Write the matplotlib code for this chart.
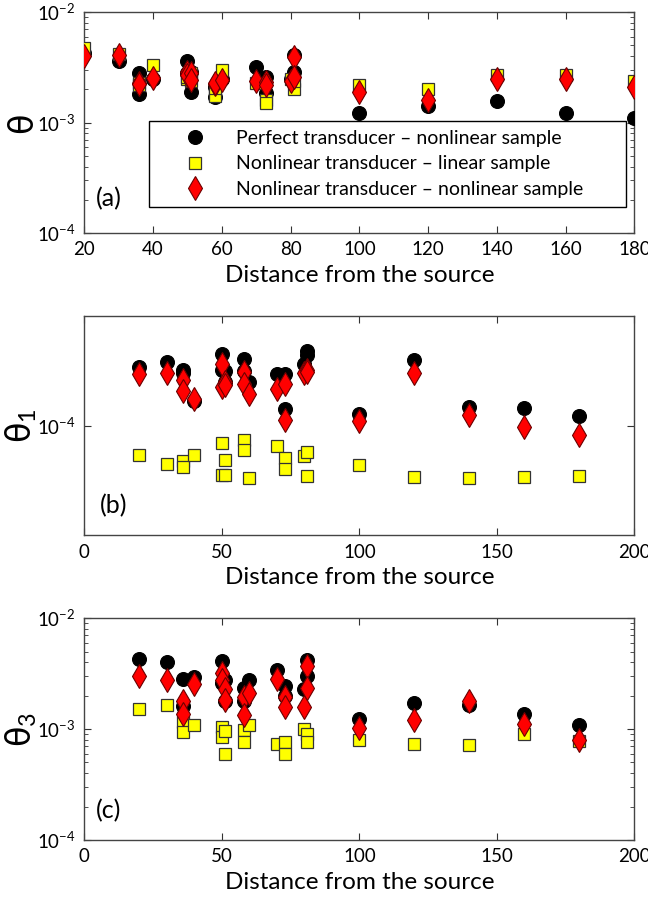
import matplotlib
matplotlib.use('Agg')
import matplotlib.pyplot as plt
from matplotlib.ticker import LogLocator, NullLocator, NullFormatter

plt.rcParams['font.family'] = ['Lato', 'DejaVu Sans']
plt.rcParams['mathtext.fontset'] = 'custom'
plt.rcParams['mathtext.rm'] = 'Lato'
plt.rcParams['mathtext.it'] = 'Lato'

# distance of each measurement point from the source
dist = [20, 30, 36, 36, 40, 50, 50, 51, 51, 58, 58, 60, 70, 73, 73, 80, 81, 81,
        100, 120, 140, 160, 180]

# (a) theta
theta_perfect = [4.3e-3, 3.6e-3, 2.8e-3, 1.8e-3, 2.5e-3, 3.6e-3, 2.8e-3, 2.9e-3,
                 1.9e-3, 1.7e-3, 2.1e-3, 2.5e-3, 3.2e-3, 2.6e-3, 1.85e-3, 2.5e-3,
                 4.05e-3, 2.9e-3, 1.22e-3, 1.4e-3, 1.58e-3, 1.22e-3, 1.1e-3]
theta_nl_lin = [4.7e-3, 4.2e-3, 2.3e-3, 2.2e-3, 3.3e-3, 2.5e-3, 2.6e-3, 2.8e-3,
                2.4e-3, 1.75e-3, 2.05e-3, 3.0e-3, 2.3e-3, 1.6e-3, 1.5e-3, 2.5e-3,
                2.0e-3, 2.4e-3, 2.2e-3, 2.0e-3, 2.7e-3, 2.7e-3, 2.4e-3]
theta_nl_nl = [4.0e-3, 4.1e-3, 2.3e-3, 2.25e-3, 2.55e-3, 2.9e-3, 2.7e-3, 2.8e-3,
               2.45e-3, 2.25e-3, 2.3e-3, 2.45e-3, 2.4e-3, 2.35e-3, 2.2e-3, 2.4e-3,
               3.9e-3, 2.6e-3, 1.9e-3, 1.6e-3, 2.5e-3, 2.5e-3, 2.12e-3]

# (b) theta_1
theta1_perfect = [1.86e-4, 1.95e-4, 1.80e-4, 1.74e-4, 1.3e-4, 2.13e-4, 1.79e-4, 1.78e-4,
                  1.59e-4, 2.02e-4, 1.78e-4, 1.58e-4, 1.72e-4, 1.72e-4, 1.19e-4, 1.91e-4,
                  2.18e-4, 2.1e-4, 1.13e-4, 2.0e-4, 1.22e-4, 1.2e-4, 1.11e-4]
theta1_nl_lin = [7.35e-5, 6.66e-5, 6.9e-5, 6.5e-5, 7.35e-5, 8.34e-5, 5.94e-5, 6.95e-5,
                 5.97e-5, 8.58e-5, 7.73e-5, 5.78e-5, 8.06e-5, 7.15e-5, 6.37e-5, 7.3e-5,
                 7.6e-5, 5.88e-5, 6.58e-5, 5.84e-5, 5.74e-5, 5.84e-5, 5.9e-5]
theta1_nl_nl = [1.72e-4, 1.74e-4, 1.62e-4, 1.44e-4, 1.32e-4, 1.91e-4, 1.50e-4, 1.58e-4,
                1.54e-4, 1.75e-4, 1.55e-4, 1.40e-4, 1.47e-4, 1.55e-4, 1.06e-4, 1.73e-4,
                1.79e-4, 1.76e-4, 1.05e-4, 1.74e-4, 1.12e-4, 9.86e-5, 9.1e-5]

# (c) theta_3
theta3_perfect = [4.31e-3, 4.0e-3, 2.82e-3, 1.62e-3, 2.94e-3, 4.14e-3, 2.6e-3, 2.79e-3,
                  1.80e-3, 2.34e-3, 1.78e-3, 2.75e-3, 3.43e-3, 2.43e-3, 1.97e-3, 2.29e-3,
                  4.23e-3, 2.99e-3, 1.23e-3, 1.72e-3, 1.66e-3, 1.37e-3, 1.09e-3]
theta3_nl_lin = [1.52e-3, 1.64e-3, 1.17e-3, 9.5e-4, 1.09e-3, 1.04e-3, 8.4e-4, 9.65e-4,
                 5.94e-4, 9.86e-4, 7.58e-4, 1.09e-3, 7.38e-4, 7.58e-4, 6.0e-4, 1.0e-3,
                 9.1e-4, 7.6e-4, 8.0e-4, 7.38e-4, 7.17e-4, 9.1e-4, 7.74e-4]
theta3_nl_nl = [3.03e-3, 2.75e-3, 1.80e-3, 1.37e-3, 2.56e-3, 3.2e-3, 2.79e-3, 2.29e-3,
                1.84e-3, 1.94e-3, 1.33e-3, 2.11e-3, 2.82e-3, 1.93e-3, 1.58e-3, 1.58e-3,
                3.72e-3, 2.34e-3, 1.02e-3, 1.2e-3, 1.81e-3, 1.12e-3, 8.0e-4]

labels = ['Perfect transducer \u2013 nonlinear sample',
          'Nonlinear transducer \u2013 linear sample',
          'Nonlinear transducer \u2013 nonlinear sample']

fig = plt.figure(figsize=(6.48, 8.98), dpi=100)
ax_a = fig.add_axes([0.130, 0.7405, 0.849, 0.246])
ax_b = fig.add_axes([0.130, 0.404, 0.849, 0.244])
ax_c = fig.add_axes([0.130, 0.0646, 0.849, 0.247])

def draw(ax, perfect, nl_lin, nl_nl, ylab):
    ax.plot(dist, perfect, 'o', ms=10, mfc='black', mec='black', mew=0.8,
            label=labels[0], zorder=3)
    ax.plot(dist, nl_lin, 's', ms=8.5, mfc='#ffff00', mec='#333333', mew=0.9,
            label=labels[1], zorder=4)
    ax.plot(dist, nl_nl, 'd', ms=12, mfc='#ff0000', mec='#6b0000', mew=0.8,
            label=labels[2], zorder=5)
    ax.set_yscale('log')
    ax.set_xlabel('Distance from the source', fontsize=17.5, labelpad=5)
    ax.set_ylabel(ylab, fontsize=24, family='DejaVu Sans')
    ax.yaxis.set_label_coords(-0.082, 0.5)
    ax.tick_params(which='both', direction='in', top=True, right=True,
                   labelsize=13.5, colors='#333333', labelcolor='black')
    ax.tick_params(which='major', length=5, pad=6)
    ax.tick_params(which='minor', length=3)
    for sp in ax.spines.values():
        sp.set_color('#444444')
        sp.set_linewidth(1.0)

# (a)
draw(ax_a, theta_perfect, theta_nl_lin, theta_nl_nl, '\u03b8')
ax_a.set_xlim(20, 180)
ax_a.set_xticks(range(20, 181, 20))
ax_a.set_ylim(1e-4, 1e-2)
ax_a.yaxis.set_minor_locator(LogLocator(base=10, subs=range(2, 10)))
ax_a.yaxis.set_minor_formatter(NullFormatter())
ax_a.text(0.022, 0.12, '(a)', transform=ax_a.transAxes, fontsize=18)
leg = ax_a.legend(loc='lower left', bbox_to_anchor=(0.118, 0.118, 0.866, 0.375),
                  mode='expand', fontsize=14, frameon=True, fancybox=False,
                  edgecolor='black', borderpad=0.45, labelspacing=0.45,
                  handletextpad=0.2, borderaxespad=0, handlelength=3.8)
leg.get_frame().set_linewidth(1.0)
leg.get_frame().set_alpha(1)
leg.set_zorder(10)

# (b)
draw(ax_b, theta1_perfect, theta1_nl_lin, theta1_nl_nl, '\u03b8$_1$')
ax_b.set_xlim(0, 200)
ax_b.set_xticks(range(0, 201, 50))
ax_b.set_ylim(10 ** -4.5, 10 ** -3.5)
ax_b.yaxis.set_minor_locator(NullLocator())
ax_b.text(0.028, 0.1, '(b)', transform=ax_b.transAxes, fontsize=18)

# (c)
draw(ax_c, theta3_perfect, theta3_nl_lin, theta3_nl_nl, '\u03b8$_3$')
ax_c.set_xlim(0, 200)
ax_c.set_xticks(range(0, 201, 50))
ax_c.set_ylim(1e-4, 1e-2)
ax_c.yaxis.set_minor_locator(LogLocator(base=10, subs=range(2, 10)))
ax_c.yaxis.set_minor_formatter(NullFormatter())
ax_c.text(0.022, 0.1, '(c)', transform=ax_c.transAxes, fontsize=18)

fig.savefig('out.png', dpi=100)
